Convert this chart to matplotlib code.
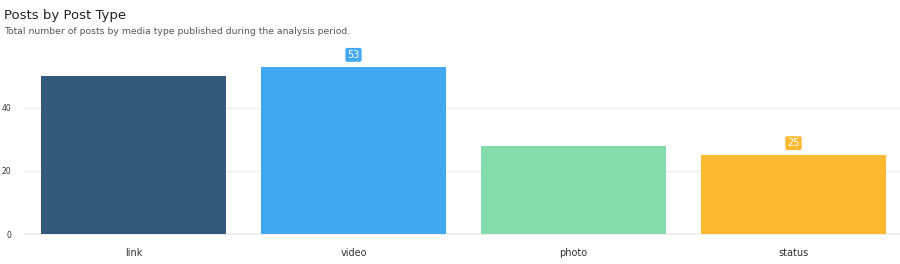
import matplotlib.pyplot as plt

# data
post_types = ["link", "video", "photo", "status"]
post_counts = [50, 53, 28, 25]
bar_colors = ["#34597D", "#40A7F0", "#83DCA9", "#FDBA31"]
labelled = ["video", "status"]

fig = plt.figure(figsize=(9, 2.64), dpi=100)
ax = fig.add_axes([23.5 / 900, 1 - 234 / 264, 880 / 900, (234 - 51) / 264])

x = range(len(post_types))
ax.bar(x, post_counts, width=0.84, color=bar_colors, zorder=2)

for i, (name, val) in enumerate(zip(post_types, post_counts)):
    if name in labelled:
        ax.text(i, val + 2.2, str(val), ha="center", va="bottom",
                fontsize=7, color="white", zorder=3,
                bbox=dict(boxstyle="round,pad=0.2", fc=bar_colors[i],
                          ec="none"))

ax.set_xlim(-0.5, 3.5)
ax.set_ylim(0, 58)
ax.set_yticks([0, 20, 40])
ax.set_xticks(list(x))
ax.set_xticklabels(post_types)
ax.yaxis.grid(True, color="#eeeeee", linewidth=1, zorder=0)
ax.axhline(0, color="#eeeeee", linewidth=1.2, zorder=1, clip_on=False)
ax.tick_params(axis="both", length=0, colors="#333333")
ax.tick_params(axis="x", pad=10, labelsize=7)
ax.tick_params(axis="y", pad=9, labelsize=5.5)
for s in ax.spines.values():
    s.set_visible(False)

fig.text(4 / 900, 1 - 15 / 264, "Posts by Post Type", fontsize=9.5,
         color="#222222", va="center")
fig.text(4 / 900, 1 - 31 / 264,
         "Total number of posts by media type published during the analysis period.",
         fontsize=6.7, color="#555555", va="center")

fig.savefig("out.png", dpi=100)
